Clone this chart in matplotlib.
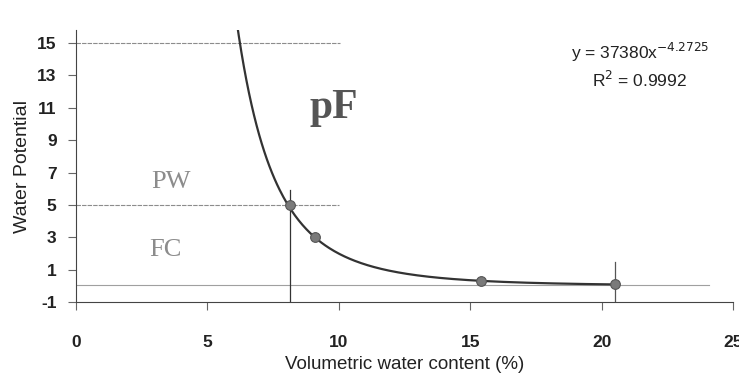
import numpy as np
import matplotlib.pyplot as plt

# measured points (volumetric water content %, water potential)
theta = [8.13, 9.1, 15.4, 20.5]
psi = [5.0, 3.0, 0.32, 0.12]

# power-law fit shown on the chart
coef_a = 37380
coef_b = -4.2725

xticks = [0, 5, 10, 15, 20, 25]
yticks = [-1, 1, 3, 5, 7, 9, 11, 13, 15]

plt.rcParams['font.family'] = ['Liberation Sans', 'DejaVu Sans']
plt.rcParams['axes.unicode_minus'] = False

fig = plt.figure(figsize=(7.39, 3.81), dpi=100)
ax = fig.add_axes([0.1028, 0.207, 0.8892, 0.714])

# reference lines
ax.plot([0, 10.05], [15, 15], color='#8c8c8c', lw=0.8, ls=(0, (4, 1)))
ax.plot([0, 10.0], [5, 5], color='#8c8c8c', lw=0.8, ls=(0, (4, 1)))
ax.plot([0, 24.1], [0.08, 0.08], color='#a0a0a0', lw=0.8)
ax.plot([theta[0], theta[0]], [-1, 5.9], color='#333333', lw=0.9)
ax.plot([theta[3], theta[3]], [-1, 1.5], color='#555555', lw=0.9)

# fitted curve
xs = np.linspace(6.0, theta[-1], 300)
ax.plot(xs, coef_a * xs ** coef_b, color='#333333', lw=1.6)
ax.plot(theta, psi, 'o', ms=7, color='#7a7a7a', mec='#555555', mew=0.8)

ax.text(9.8, 10.4, 'pF', family='Liberation Serif', fontsize=30, fontweight='bold',
        color='#555555', ha='center', va='baseline')
ax.text(3.6, 6.4, 'PW', family='Liberation Serif', fontsize=19, color='#8c8c8c',
        ha='center', va='center')
ax.text(3.4, 2.2, 'FC', family='Liberation Serif', fontsize=19, color='#8c8c8c',
        ha='center', va='center')
ax.text(21.45, 14.4, 'y = 37380x$^{-4.2725}$', fontsize=12.5, color='#222222',
        ha='center', va='center')
ax.text(21.45, 12.7, 'R$^2$ = 0.9992', fontsize=12.5, color='#222222',
        ha='center', va='center')

ax.set_xlim(0, 25)
ax.set_ylim(-1, 15.8)
ax.set_xticks(xticks)
ax.set_yticks(yticks)
ax.tick_params(axis='both', length=6, width=0.8, color='#666666', labelsize=12.5,
               labelcolor='#222222', pad=8)
for lab in ax.get_xticklabels() + ax.get_yticklabels():
    lab.set_fontweight('bold')
ax.xaxis.set_tick_params(pad=18)

ax.spines['top'].set_visible(False)
ax.spines['right'].set_visible(False)
ax.spines['left'].set_color('#444444')
ax.spines['bottom'].set_color('#444444')

ax.set_xlabel('Volumetric water content (%)', fontsize=13.5, color='#222222', labelpad=4)
ax.set_ylabel('Water Potential', fontsize=14, color='#222222', labelpad=4)

fig.savefig('out.png', dpi=100)
